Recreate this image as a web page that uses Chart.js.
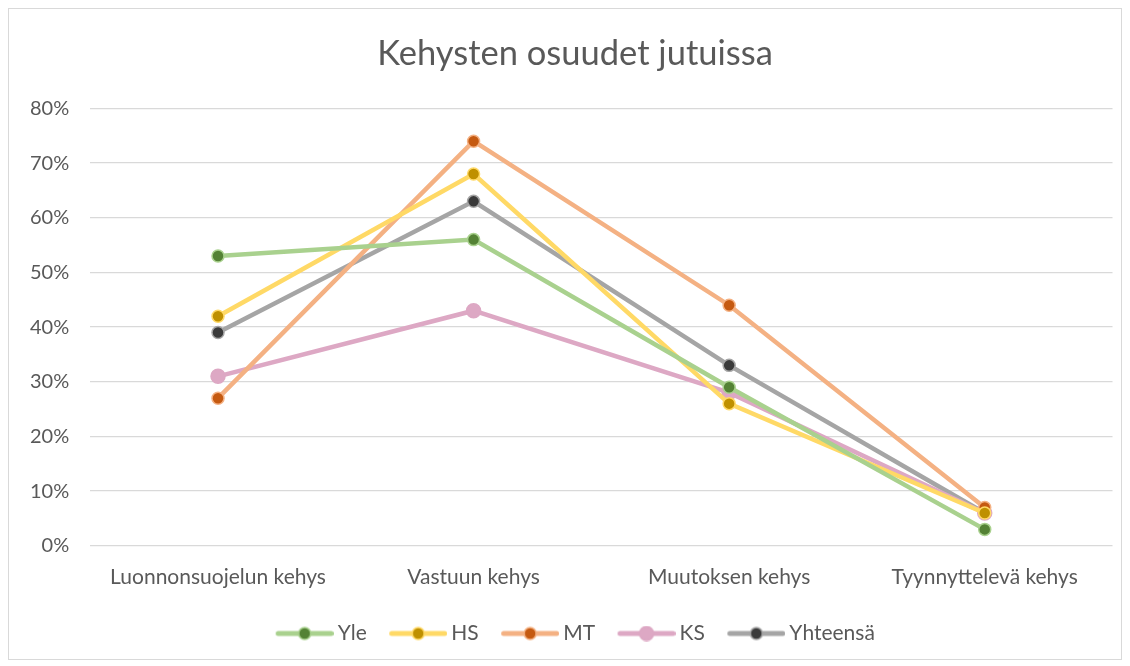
<!DOCTYPE html>
<html>
<head>
<meta charset="utf-8">
<script src="https://cdn.jsdelivr.net/npm/chart.js@4.4.0/dist/chart.umd.min.js"></script>
<style>
  html, body { margin: 0; padding: 0; background: #fff; }
  #wrap { position: absolute; left: 8px; top: 8px; width: 1112px; height: 650px; border: 1px solid #d9d9d9; }
  #myChart { position: absolute; left: 0; top: 0; }
</style>
</head>
<body>
<div id="wrap"><canvas id="myChart"></canvas></div>
<script>
const categories = ['Luonnonsuojelun kehys', 'Vastuun kehys', 'Muutoksen kehys', 'Tyynnyttelevä kehys'];
const yle = [53, 56, 29, 3];
const hs = [42, 68, 26, 6];
const mt = [27, 74, 44, 7];
const ks = [31, 43, 28, 6];
const yhteensa = [39, 63, 33, 6];
const yTicks = [0, 10, 20, 30, 40, 50, 60, 70, 80];

// legend marker: line with dot, drawn at the right side of the canvas
function marker(line, fill, ring, r) {
  const c = document.createElement('canvas');
  c.width = 65; c.height = 16;
  const g = c.getContext('2d');
  g.strokeStyle = line; g.lineWidth = 5; g.lineCap = 'round';
  g.beginPath(); g.moveTo(9.5, 8); g.lineTo(62.5, 8); g.stroke();
  g.fillStyle = fill; g.strokeStyle = ring; g.lineWidth = 1.5;
  g.beginPath(); g.arc(36, 8, r, 0, Math.PI * 2); g.fill(); g.stroke();
  return c;
}

function ds(label, data, line, fill, ring, r) {
  return {
    label: label, data: data,
    borderColor: line, borderWidth: 4.5,
    pointBackgroundColor: fill, pointBorderColor: ring, pointBorderWidth: 1.5,
    pointRadius: r, pointHoverRadius: r,
    tension: 0, legendMarker: marker(line, fill, ring, r)
  };
}

const ctx = document.getElementById('myChart');
ctx.width = 1112; ctx.height = 650;

new Chart(ctx, {
  type: 'line',
  data: {
    labels: categories,
    datasets: [
      ds('Yle', yle, '#A9D18E', '#548235', '#A9D18E', 6),
      ds('HS', hs, '#FFD966', '#BF9000', '#FFD966', 6),
      ds('MT', mt, '#F4B183', '#C55A11', '#F4B183', 6),
      ds('KS', ks, '#DDA8C4', '#DDA8C4', '#DDA8C4', 7),
      ds('Yhteensä', yhteensa, '#A5A5A5', '#3A3A3A', '#A5A5A5', 6)
    ]
  },
  options: {
    responsive: false,
    animation: false,
    layout: { padding: { left: 28, right: 8, top: 14, bottom: 5 } },
    plugins: {
      title: {
        display: true,
        text: 'Kehysten osuudet jutuissa',
        color: '#595959',
        font: { family: 'Lato', size: 34.5, weight: 'normal' },
        padding: { top: 10, bottom: 34 }
      },
      legend: {
        position: 'bottom',
        labels: {
          usePointStyle: true,
          pointStyleWidth: 52,
          color: '#595959',
          font: { family: 'Lato', size: 21 },
          padding: 22,
          generateLabels: function (chart) {
            return chart.data.datasets.map(function (d, i) {
              return { text: d.label, pointStyle: d.legendMarker, datasetIndex: i, fontColor: '#595959', hidden: false, lineWidth: 0 };
            });
          }
        }
      },
      tooltip: { enabled: false }
    },
    scales: {
      x: {
        offset: true,
        grid: { display: false },
        border: { display: false },
        ticks: { color: '#595959', font: { family: 'Lato', size: 21 }, padding: 11 }
      },
      y: {
        min: 0, max: 80,
        afterBuildTicks: function (axis) { axis.ticks = yTicks.map(function (v) { return { value: v }; }); },
        afterFit: function (axis) {
          // narrower axis box so title/legend centre like the original; labels may overflow left
          axis.width = axis.width - 28;
          axis._computeLabelArea = function () { return undefined; };
        },
        grid: { color: '#d9d9d9', lineWidth: 1.3, drawTicks: false },
        border: { display: false },
        ticks: { color: '#595959', font: { family: 'Lato', size: 20 }, padding: 21, callback: function (v) { return v + '%'; } }
      }
    }
  }
});
</script>
</body>
</html>
